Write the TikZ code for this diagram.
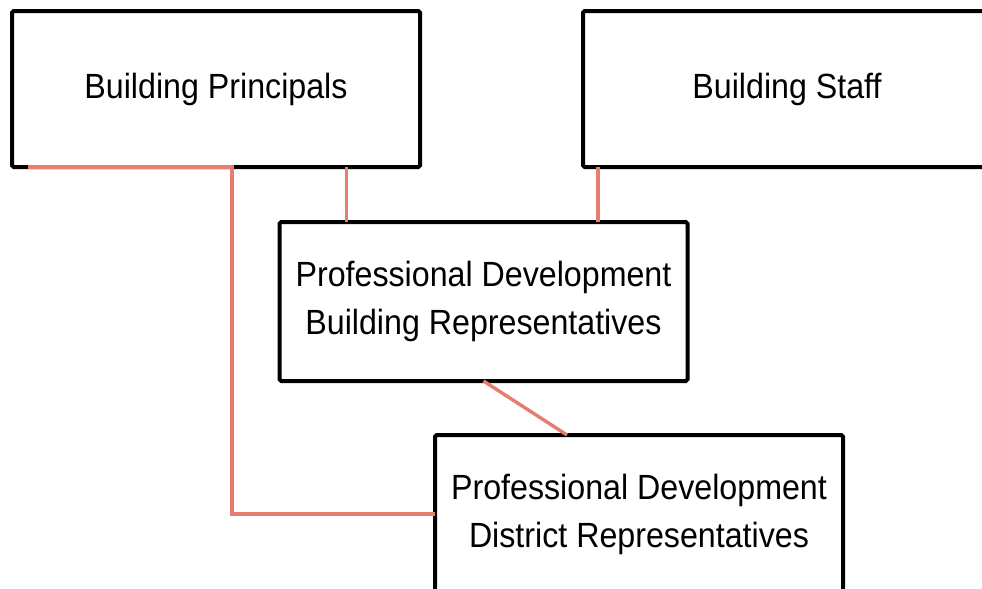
\documentclass[tikz,border=0pt]{standalone}
\usepackage{fontspec}
\setmainfont[FakeStretch=0.92]{Liberation Sans}
\usetikzlibrary{positioning,calc}
\definecolor{linkred}{RGB}{229,126,110}

\begin{document}
\begin{tikzpicture}[
				x=0.5pt, y=-0.5pt,
				rolebox/.style={rectangle, draw=black, line width=2pt, fill=white, rounded corners=0.8pt,
					outer sep=0pt, minimum width=204pt, align=center, font=\fontsize{17.5}{24}\selectfont},
				link/.style={draw=linkred, line width=1.7pt}
			]
			\useasboundingbox (0,0) rectangle (982,589);
			\node[rolebox, minimum height=78pt] (principals) at (216,89) {Building Principals};
			\node[rolebox, minimum height=78pt] (staff) at (787,89) {Building Staff};
			\node[rolebox, minimum height=79.5pt] (bldgrep) at (483.5,301.5) {Professional Development\\Building Representatives};
			\node[rolebox, minimum height=79pt] (distrep) at (639,514) {Professional Development\\District Representatives};
			\coordinate (principalsfoot) at ($(principals.south west)+(16,0)$);
			\coordinate (principalsdrop) at ($(bldgrep.north west)+(67,0)$);
			\coordinate (staffdrop) at ($(staff.south west)+(15,0)$);
			\coordinate (disttop) at ($(distrep.north west)+(132,0)$);
			\begin{scope}[link]
			\draw (principalsfoot) -- ++(204,0) |- (distrep.west);
			\draw (principalsdrop) -- (principalsdrop |- principals.south);
			\draw (staffdrop) -- (staffdrop |- bldgrep.north);
			\draw (bldgrep.south) -- (disttop);
			\end{scope}
			\end{tikzpicture}
\end{document}
